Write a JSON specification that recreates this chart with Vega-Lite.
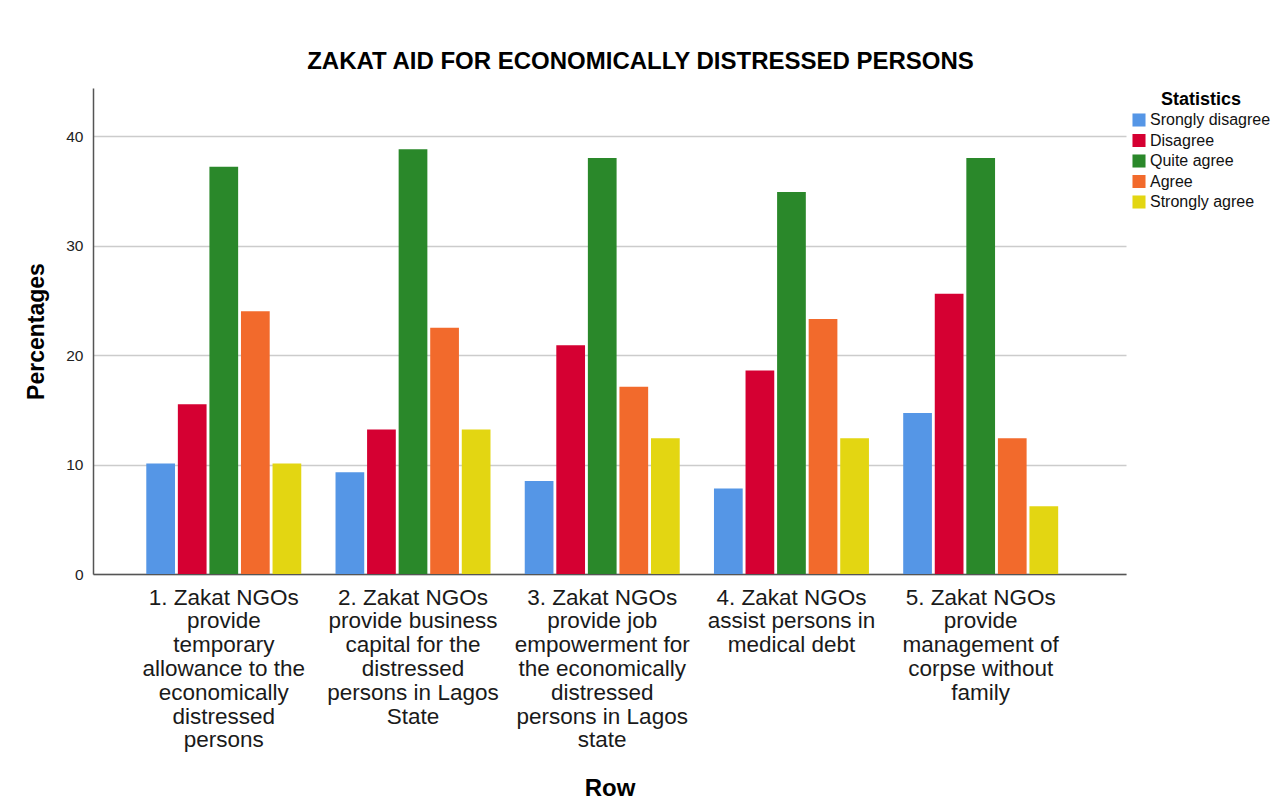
{
  "$schema": "https://vega.github.io/schema/vega-lite/v6.json",
  "autosize": "none",
  "width": 1033,
  "height": 486,
  "padding": {"left": 93, "top": 88, "right": 154, "bottom": 235},
  "background": "white",
  "title": {
    "text": "ZAKAT AID FOR ECONOMICALLY DISTRESSED PERSONS",
    "font": "Liberation Sans",
    "fontSize": 24,
    "fontWeight": "bold",
    "color": "#000000",
    "anchor": "middle",
    "dx": 31,
    "offset": 14
  },
  "data": {
    "values": [
      {"row": "1. Zakat NGOs|provide|temporary|allowance to the|economically|distressed|persons", "stat": "Srongly disagree", "pct": 10.1},
      {"row": "1. Zakat NGOs|provide|temporary|allowance to the|economically|distressed|persons", "stat": "Disagree", "pct": 15.5},
      {"row": "1. Zakat NGOs|provide|temporary|allowance to the|economically|distressed|persons", "stat": "Quite agree", "pct": 37.2},
      {"row": "1. Zakat NGOs|provide|temporary|allowance to the|economically|distressed|persons", "stat": "Agree", "pct": 24.0},
      {"row": "1. Zakat NGOs|provide|temporary|allowance to the|economically|distressed|persons", "stat": "Strongly agree", "pct": 10.1},
      {"row": "2. Zakat NGOs|provide business|capital for the|distressed|persons in Lagos|State", "stat": "Srongly disagree", "pct": 9.3},
      {"row": "2. Zakat NGOs|provide business|capital for the|distressed|persons in Lagos|State", "stat": "Disagree", "pct": 13.2},
      {"row": "2. Zakat NGOs|provide business|capital for the|distressed|persons in Lagos|State", "stat": "Quite agree", "pct": 38.8},
      {"row": "2. Zakat NGOs|provide business|capital for the|distressed|persons in Lagos|State", "stat": "Agree", "pct": 22.5},
      {"row": "2. Zakat NGOs|provide business|capital for the|distressed|persons in Lagos|State", "stat": "Strongly agree", "pct": 13.2},
      {"row": "3. Zakat NGOs|provide job|empowerment for|the economically|distressed|persons in Lagos|state", "stat": "Srongly disagree", "pct": 8.5},
      {"row": "3. Zakat NGOs|provide job|empowerment for|the economically|distressed|persons in Lagos|state", "stat": "Disagree", "pct": 20.9},
      {"row": "3. Zakat NGOs|provide job|empowerment for|the economically|distressed|persons in Lagos|state", "stat": "Quite agree", "pct": 38.0},
      {"row": "3. Zakat NGOs|provide job|empowerment for|the economically|distressed|persons in Lagos|state", "stat": "Agree", "pct": 17.1},
      {"row": "3. Zakat NGOs|provide job|empowerment for|the economically|distressed|persons in Lagos|state", "stat": "Strongly agree", "pct": 12.4},
      {"row": "4. Zakat NGOs|assist persons in|medical debt", "stat": "Srongly disagree", "pct": 7.8},
      {"row": "4. Zakat NGOs|assist persons in|medical debt", "stat": "Disagree", "pct": 18.6},
      {"row": "4. Zakat NGOs|assist persons in|medical debt", "stat": "Quite agree", "pct": 34.9},
      {"row": "4. Zakat NGOs|assist persons in|medical debt", "stat": "Agree", "pct": 23.3},
      {"row": "4. Zakat NGOs|assist persons in|medical debt", "stat": "Strongly agree", "pct": 12.4},
      {"row": "5. Zakat NGOs|provide|management of|corpse without|family", "stat": "Srongly disagree", "pct": 14.7},
      {"row": "5. Zakat NGOs|provide|management of|corpse without|family", "stat": "Disagree", "pct": 25.6},
      {"row": "5. Zakat NGOs|provide|management of|corpse without|family", "stat": "Quite agree", "pct": 38.0},
      {"row": "5. Zakat NGOs|provide|management of|corpse without|family", "stat": "Agree", "pct": 12.4},
      {"row": "5. Zakat NGOs|provide|management of|corpse without|family", "stat": "Strongly agree", "pct": 6.2}
    ]
  },
  "mark": {"type": "bar"},
  "encoding": {
    "x": {
      "field": "row",
      "type": "nominal",
      "sort": null,
      "scale": {"paddingInner": 0.181, "paddingOuter": 0.32, "align": 0.44},
      "axis": {
        "title": "Row",
        "titleFont": "Liberation Sans",
        "titleFontSize": 24,
        "titleFontWeight": "bold",
        "titleColor": "#000000",
        "titlePadding": 25,
        "labelExpr": "split(datum.label, '|')",
        "labelAngle": 0,
        "labelFont": "Liberation Sans",
        "labelFontSize": 22.5,
        "labelLineHeight": 23.8,
        "labelColor": "#1a1a1a",
        "labelPadding": 12,
        "labelLimit": 400,
        "labelBaseline": "top",
        "ticks": false,
        "domainColor": "#555555",
        "domainWidth": 1.5,
        "grid": false
      }
    },
    "xOffset": {
      "field": "stat",
      "type": "nominal",
      "sort": ["Srongly disagree", "Disagree", "Quite agree", "Agree", "Strongly agree"],
      "scale": {"paddingInner": 0.09, "paddingOuter": 0}
    },
    "y": {
      "field": "pct",
      "type": "quantitative",
      "scale": {"domain": [0, 44.4], "nice": false},
      "axis": {
        "title": "Percentages",
        "titleFont": "Liberation Sans",
        "titleFontSize": 23,
        "titleFontWeight": "bold",
        "titleColor": "#000000",
        "titlePadding": 17,
        "values": [0, 10, 20, 30, 40],
        "labelFont": "Liberation Sans",
        "labelFontSize": 15.5,
        "labelColor": "#222222",
        "labelPadding": 10,
        "ticks": false,
        "domainColor": "#555555",
        "domainWidth": 1.5,
        "grid": true,
        "gridColor": "#cccccc",
        "gridWidth": 1.5
      }
    },
    "color": {
      "field": "stat",
      "type": "nominal",
      "sort": ["Srongly disagree", "Disagree", "Quite agree", "Agree", "Strongly agree"],
      "scale": {
        "domain": ["Srongly disagree", "Disagree", "Quite agree", "Agree", "Strongly agree"],
        "range": ["#5596E6", "#D50032", "#2A882A", "#F26A2C", "#E3D612"]
      },
      "legend": {
        "title": "Statistics",
        "orient": "none",
        "legendX": 1038,
        "legendY": 3,
        "titleFont": "Liberation Sans",
        "titleFontSize": 18,
        "titleFontWeight": "bold",
        "titleColor": "#000000",
        "titleAnchor": "middle",
        "titlePadding": 3,
        "labelFont": "Liberation Sans",
        "labelFontSize": 16,
        "labelColor": "#111111",
        "labelOffset": 3,
        "symbolType": "square",
        "symbolSize": 170,
        "symbolStrokeWidth": 0,
        "rowPadding": 4.5
      }
    }
  },
  "config": {
    "view": {"stroke": null},
    "font": "Liberation Sans"
  }
}
